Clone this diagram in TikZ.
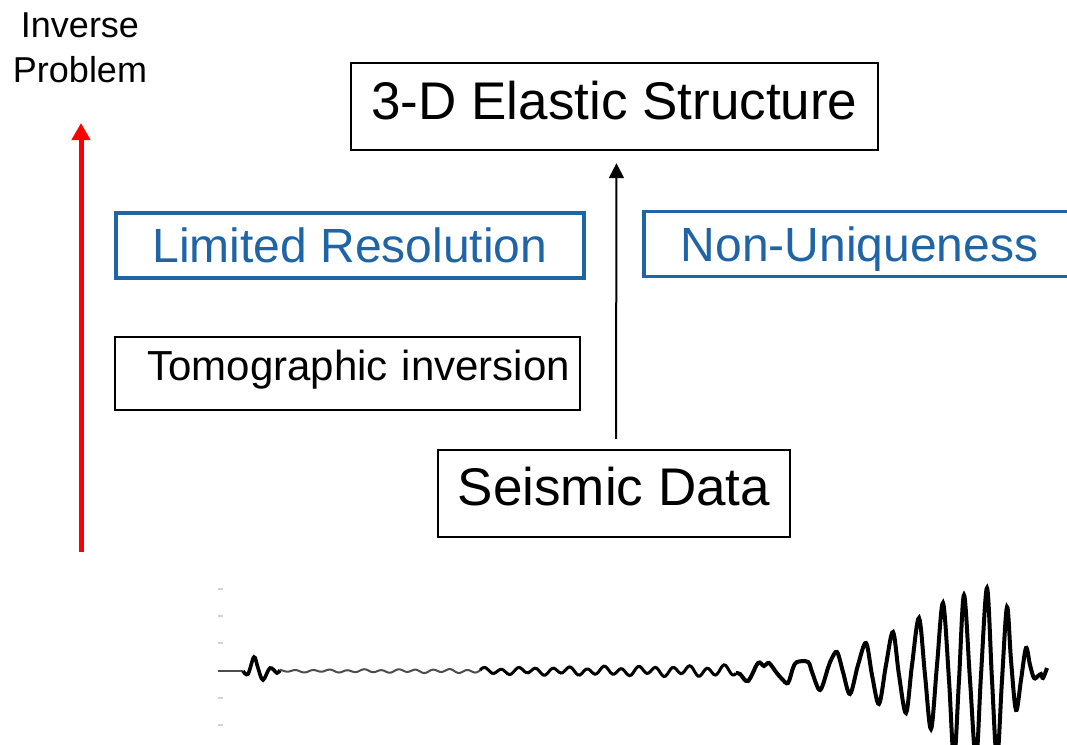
\documentclass[tikz,border=0pt]{standalone}
\usepackage{fontspec}
\setmainfont{Liberation Sans}
\usetikzlibrary{arrows.meta}
\definecolor{resblue}{RGB}{31,100,165}

\begin{document}
\begin{tikzpicture}[x=0.5pt, y=-0.5pt,
  box/.style={draw=black, line width=1.2pt, inner sep=0pt},
  bluebox/.style={draw=resblue, line width=1.7pt, text=resblue, inner sep=0pt,
    minimum height=32.5pt, text height=19pt, text depth=1.8pt,
    font=\fontsize{24}{28}\selectfont}]
  \useasboundingbox (0,0) rectangle (1067,745);

  % Boxes
  \node[box, minimum width=263.5pt, minimum height=43.5pt, text height=14pt, text depth=1.5pt,
    font=\fontsize{26.5}{30}\selectfont] (elastic) at (614.5,106.5) {3-D Elastic Structure};
  \node[bluebox, minimum width=234pt] (resolution) at (350,245.5) {Limited Resolution};
  \node[bluebox, minimum width=215.5pt] (uniqueness) at (859.5,244) {Non-Uniqueness};
  \node[box, minimum height=36.5pt, text width=222.5pt, align=right, inner xsep=5pt,
    text height=8pt, text depth=1pt,
    font=\fontsize{21}{25}\selectfont] (tomo) at (347.5,373.5) {Tomographic inversion};
  \node[box, minimum width=176pt, minimum height=43.5pt, text height=13pt, text depth=1.5pt,
    font=\fontsize{26.5}{30}\selectfont] (data) at (614,493.5) {Seismic Data};

  % Data to structure
  \draw[line width=1pt, -{Triangle[width=7.5pt,length=7.5pt]}, shorten <=5pt, shorten >=6pt]
    ([xshift=1pt]data.north) -- ([xshift=1pt]elastic.south);

  % Inverse problem arrow
  \node[font=\fontsize{18}{22.5}\selectfont, align=center] (inverse) at (80,48) {Inverse\\Problem};
  \coordinate (redbase) at (81,552);
  \coordinate (redtip) at (81,123);
  \draw[red, line width=2.5pt, -{Triangle[width=9pt,length=8.5pt]}] (redbase) -- (redtip);

  % Seismogram
  \foreach \ty in {589,616,643,698,725}
    \draw[gray!35, line width=1pt] (218,\ty) -- (223,\ty);
  \draw[black!70, line width=1pt] (218,671) -- (243,671);
  \draw[black, line width=1.8pt] plot[smooth, tension=0.6] coordinates {
    (243,671) (248,674) (254,657) (258,668) (263,680) (270,668) (277,673) (280,670)};
  \draw[black!70, line width=1pt] plot[domain=280:480, samples=120, smooth]
    (\x, {671 - (1+1.5*(\x-280)/456)*(sin(21*\x)+0.4*sin(9*\x+50))});
  \draw[black, line width=1.5pt] plot[domain=480:736, samples=150, smooth]
    (\x, {671 - (1+3.5*(\x-280)/456)*(sin(21*\x)+0.4*sin(9*\x+50))});
  \draw[black, line width=2pt] plot[smooth, tension=0.55] coordinates {
    (736,673) (740,674) (748,681) (758,663) (764,666) (769,663) (776,672) (782,679)
    (788,683) (793,668) (797,662) (808,662) (812,672) (820,690) (828,668) (831,660)
    (837,652) (843,672) (850,694) (858,665) (866,643) (872,675) (879,704) (886,665)
    (893,632) (899,675) (906,713) (912,665) (919,618) (925,675) (931,729) (937,665)
    (943,603) (949,680) (954,760) (959,680) (964,595) (970,680) (976,760) (981,675)
    (987,588) (992,680) (997,760) (1002,680) (1007,607) (1011,660) (1016,710) (1021,680)
    (1026,648) (1030,665) (1034,678) (1038,676) (1041,674) (1043,678) (1047,668)};
\end{tikzpicture}
\end{document}
